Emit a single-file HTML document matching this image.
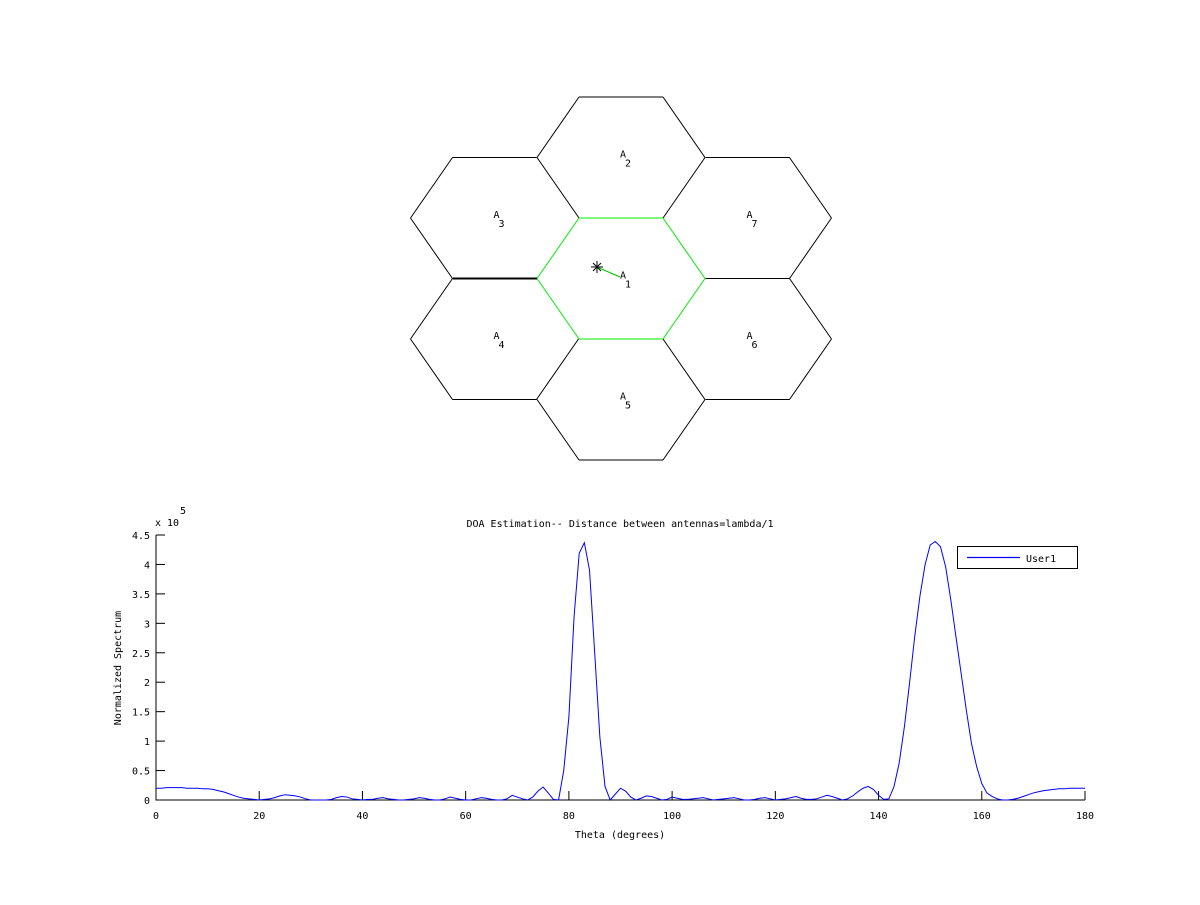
<!DOCTYPE html>
<html><head><meta charset="utf-8"><style>
body{margin:0;background:#fff;}
svg text{font-family:"DejaVu Sans Mono","Liberation Mono",monospace;font-size:10px;fill:#000;}
</style></head><body>
<svg id="svg" width="1200" height="900" xmlns="http://www.w3.org/2000/svg">
<rect width="1200" height="900" fill="#fff"/>
<g id="cells"></g>
<g id="chart"></g>
</svg>
<script>
const cellNames=["A1","A2","A3","A4","A5","A6","A7"];
const cellCol=[0,0,-1,-1,0,1,1];
const cellRow=[0,-2,-1,1,2,1,-1];
const thetaTicks=[0,20,40,60,80,100,120,140,160,180];
const yTicks=[0,0.5,1,1.5,2,2.5,3,3.5,4,4.5];
const yTickLabels=["0","0.5","1","1.5","2","2.5","3","3.5","4","4.5"];
const spectrum=[
0.20,0.20,0.21,0.21,0.21,0.21,0.20,0.20,0.20,0.19,
0.19,0.18,0.16,0.14,0.11,0.08,0.05,0.03,0.02,0.01,
0.00,0.01,0.02,0.04,0.07,0.09,0.08,0.07,0.05,0.02,
0.00,0.00,0.00,0.00,0.01,0.04,0.06,0.05,0.02,0.01,
0.00,0.01,0.01,0.03,0.04,0.02,0.01,0.00,0.00,0.01,
0.02,0.04,0.03,0.01,0.00,0.00,0.02,0.05,0.03,0.01,
0.00,0.00,0.02,0.04,0.03,0.01,0.00,0.00,0.02,0.08,
0.05,0.02,0.00,0.05,0.15,0.22,0.12,0.01,0.00,0.50,
1.41,3.11,4.19,4.37,3.90,2.50,1.07,0.23,0.00,0.10,
0.20,0.15,0.05,0.00,0.03,0.07,0.06,0.03,0.00,0.01,
0.05,0.03,0.01,0.01,0.02,0.03,0.04,0.02,0.00,0.01,
0.02,0.03,0.04,0.02,0.00,0.00,0.01,0.03,0.04,0.02,
0.00,0.01,0.02,0.04,0.06,0.03,0.01,0.01,0.02,0.05,
0.08,0.06,0.03,0.00,0.02,0.07,0.14,0.20,0.23,0.18,
0.08,0.01,0.02,0.23,0.63,1.24,1.98,2.77,3.45,3.99,
4.33,4.39,4.30,3.96,3.40,2.77,2.15,1.53,0.96,0.57,
0.28,0.12,0.06,0.02,0.00,0.00,0.01,0.03,0.06,0.09,
0.12,0.14,0.16,0.17,0.18,0.19,0.19,0.20,0.20,0.20,0.20];
const legendLabels=["User1"];

const NS="http://www.w3.org/2000/svg";
function mk(parent,tag,attrs,text){const e=document.createElementNS(NS,tag);for(const k in attrs)e.setAttribute(k,attrs[k]);if(text!==undefined)e.textContent=text;parent.appendChild(e);return e;}

// Hexagons
const cells=document.getElementById('cells');
const cx0=621,cy0=278.5,hx=84,hh=42,dy=60.5,dx=126.5;
function hexV(cx,cy){return [[cx-hh,cy-dy],[cx+hh,cy-dy],[cx+hx,cy],[cx+hh,cy+dy],[cx-hh,cy+dy],[cx-hx,cy]];}
const drawn=[];
function same(a,b,c,d){const n=(p,q)=>Math.abs(p[0]-q[0])<1.5&&Math.abs(p[1]-q[1])<1.5;return (n(a,c)&&n(b,d))||(n(a,d)&&n(b,c));}
// A1 edges registered first (drawn last on top)
const a1=hexV(cx0,cy0);
for(let k=0;k<6;k++)drawn.push([a1[k],a1[(k+1)%6]]);
const order=[1,2,3,4,5,6,0];
order.forEach(i=>{
  const cx=cx0+cellCol[i]*dx, cy=cy0+cellRow[i]*dy;
  const v=hexV(cx,cy);
  const g=mk(cells,'g',{});
  
  
  for(let k=0;k<6;k++){
    const a=v[k],b=v[(k+1)%6];
    if(i!==0){
      if(drawn.some(e=>same(a,b,e[0],e[1])))continue;
      drawn.push([a,b]);
    }
    mk(g,'line',{x1:a[0],y1:a[1],x2:b[0],y2:b[1],style:'stroke:'+(i===0?'#00ee00':'#000000')+';stroke-width:1'});
  }
  const t=mk(cells,'text',{x:cx-1,y:cy},'');
  
  
  mk(t,'tspan',{},cellNames[i][0]);
  mk(t,'tspan',{dx:-1,dy:9},cellNames[i].slice(1));
});
const bold=mk(cells,'line',{x1:453,y1:278.5,x2:537,y2:278.5,style:'stroke:#000;stroke-width:2'});


const ul=mk(cells,'line',{x1:597,y1:267,x2:620,y2:277,style:'stroke:#00c000;stroke-width:1'});


const star=mk(cells,'g',{style:'stroke:#000;stroke-width:1'});


mk(star,'line',{x1:591,y1:267,x2:603,y2:267});
mk(star,'line',{x1:597,y1:261,x2:597,y2:273});
mk(star,'line',{x1:593,y1:263,x2:601,y2:271});
mk(star,'line',{x1:593,y1:271,x2:601,y2:263});

// Chart
const ch=document.getElementById('chart');
const X0=156,X1=1085,Y0=800,Y1=535;
const xs=t=>X0+(t-0)/(180-0)*(X1-X0);
const ys=v=>Y0-(v/4.5)*(Y0-Y1);
const ax=mk(ch,'path',{d:`M${X0},${Y1} V${Y0} H${X1}`,style:'fill:none;stroke:#000;stroke-width:1'});


thetaTicks.forEach(t=>{
  const x=xs(t);
  const l=mk(ch,'line',{x1:x,y1:Y0,x2:x,y2:Y0-9,style:'stroke:#000'});
  
  
  const tx=mk(ch,'text',{x:x,y:Y0+19,'text-anchor':'middle'},String(t));
  
  
});
yTicks.forEach((v,i)=>{
  const y=ys(v);
  const l=mk(ch,'line',{x1:X0,y1:y,x2:X0+9,y2:y,style:'stroke:#000'});
  
  
  const tx=mk(ch,'text',{x:X0-6,y:y+4,'text-anchor':'end'},yTickLabels[i]);
  
  
});
const ex=mk(ch,'text',{x:155,y:526},'x 10');


const ex5=mk(ch,'text',{x:180,y:514},'5');


const ti=mk(ch,'text',{x:620,y:527,'text-anchor':'middle'},'DOA Estimation-- Distance between antennas=lambda/1');


const xl=mk(ch,'text',{x:620,y:838,'text-anchor':'middle'},'Theta (degrees)');


const yl=mk(ch,'text',{x:0,y:0,'text-anchor':'middle',transform:'translate(121,668) rotate(-90)'},'Normalized Spectrum');


const pts=spectrum.map((v,i)=>xs(i*180/(spectrum.length-1)).toFixed(2)+','+ys(v).toFixed(2)).join(' ');
const line=mk(ch,'polyline',{points:pts,style:'fill:none;stroke:#0000ff;stroke-width:1'});


const lg=mk(ch,'g',{});


mk(lg,'rect',{x:957.5,y:546.5,width:120,height:22,style:'fill:#fff;stroke:#000'});
const ll=mk(lg,'line',{x1:967,y1:557.5,x2:1020,y2:557.5,style:'stroke:#0000ff;stroke-width:1.2'});


const lt=mk(lg,'text',{x:1026,y:562},legendLabels[0]);


</script>
</body></html>
